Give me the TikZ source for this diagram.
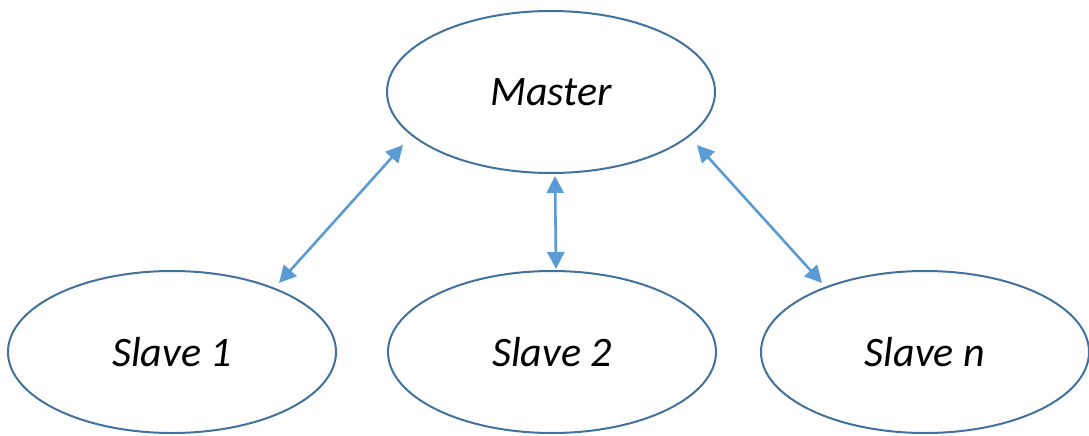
\documentclass[tikz,border=0pt]{standalone}
\usepackage{fontspec}
\setmainfont{Carlito}
\usetikzlibrary{shapes.geometric,arrows.meta,calc}
\definecolor{ellblue}{HTML}{41719C}
\definecolor{arrblue}{HTML}{5B9BD5}
\begin{document}
\begin{tikzpicture}[x=1pt,y=-1pt,
  ellnode/.style={ellipse,draw=ellblue,line width=2pt,minimum width=328pt,minimum height=162pt,inner sep=0pt,
    font=\fontsize{42}{50}\selectfont\itshape},
  link/.style={draw=arrblue,line width=2.6pt,{Triangle[length=17pt,width=17pt]}-{Triangle[length=17pt,width=17pt]}}]
\useasboundingbox (0,0) rectangle (1089,436);
\node[ellnode] (m) at (551,92) {Master};
\node[ellnode] (s1) at (172,352) {Slave 1};
\node[ellnode] (s2) at (552,352) {Slave 2};
\node[ellnode] (sn) at (925,352) {Slave n};
\coordinate (a1) at ($(m.center)+(-148,53)$);
\coordinate (b1) at ($(s1.center)+(107,-69)$);
\coordinate (a2) at ($(m.south)+(4,2)$);
\coordinate (b2) at ($(s2.north)+(4,-1)$);
\coordinate (a3) at ($(m.center)+(146,53)$);
\coordinate (b3) at ($(sn.center)+(-103,-69)$);
\draw[link] (a1) -- (b1);
\draw[link] (a2) -- (b2);
\draw[link] (a3) -- (b3);
\end{tikzpicture}
\end{document}
